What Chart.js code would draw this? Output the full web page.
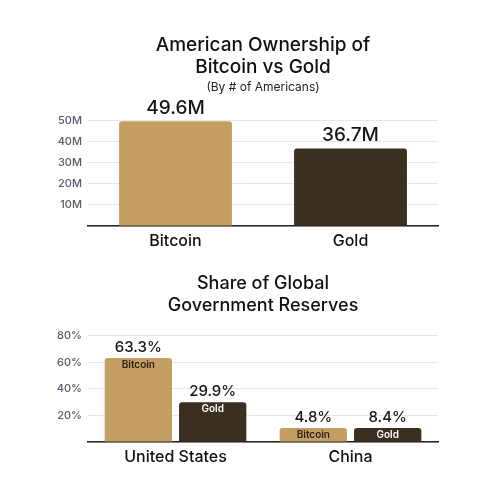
<!DOCTYPE html>
<html>
<head>
<meta charset="utf-8">
<script src="https://cdn.jsdelivr.net/npm/chart.js@4/dist/chart.umd.min.js"></script>
<style>
  body { margin: 0; background: #fff; }
  #wrap { position: relative; width: 500px; height: 484px; overflow: hidden; }
  canvas { position: absolute; left: 0; }
</style>
</head>
<body>
<div id="wrap">
  <canvas id="ownership" width="500" height="250" style="top:0"></canvas>
  <canvas id="reserves" width="500" height="234" style="top:250px"></canvas>
</div>
<script>
// data
let ownLabels = ["Bitcoin", "Gold"];
let ownValues = [49.6, 36.7];          // millions of Americans
let ownTicks = [10, 20, 30, 40, 50];

let resCountries = ["United States", "China"];
let resBitcoin = [63.3, 4.8];          // % of global government reserves
let resGold = [29.9, 8.4];
let resTicks = [20, 40, 60, 80];

let tan = "#c49e62";
let dark = "#3a2f20";
let font = "Inter, 'Noto Sans', sans-serif";

// value text above each bar (+ optional name inside the bar)
let etiquetas = {
    id: "etiquetas",
    afterDatasetsDraw(chart, args, opts) {
        let ctx = chart.ctx;
        chart.data.datasets.forEach((ds, i) => {
            let meta = chart.getDatasetMeta(i);
            meta.data.forEach((bar, j) => {
                ctx.save();
                ctx.textAlign = "center";
                ctx.textBaseline = "middle";
                ctx.font = "500 " + opts.size + "px " + font;
                ctx.fillStyle = "#161616";
                ctx.fillText(ds.data[j] + opts.suffix, bar.x, bar.y - opts.offset);
                if (opts.inner) {
                    ctx.font = "600 10px " + font;
                    ctx.fillStyle = ds.innerColor;
                    ctx.fillText(ds.label, bar.x, bar.y + 7);
                }
                ctx.restore();
            });
        });
    }
};

let yAxis = (ticks, suffix) => ({
    min: 0,
    max: ticks[ticks.length - 1],
    afterFit: (axis) => { axis.width = 48; },
    afterBuildTicks: (axis) => { axis.ticks = [0].concat(ticks).map(v => ({ value: v })); },
    border: { display: false },
    grid: { color: "#e6e6e6", lineWidth: 1, drawTicks: false },
    ticks: {
        padding: 6,
        color: "#575c6b",
        font: { family: font, size: 11, weight: "500" },
        callback: (v) => v === 0 ? "" : v + suffix
    }
});

let xAxis = (size, height) => ({
    afterFit: (axis) => { axis.height = height; },
    border: { display: true, color: "#222", width: 1.5 },
    grid: { display: false, drawTicks: false },
    ticks: { padding: 6, color: "#111", font: { family: font, size: size, weight: "500" } }
});

let grafica1 = document.getElementById("ownership").getContext("2d");
new Chart(grafica1, {
    type: "bar",
    data: {
        labels: ownLabels,
        datasets: [{
            label: "Americans",
            data: ownValues,
            backgroundColor: [tan, dark],
            borderRadius: 3,
            borderSkipped: "bottom",
            barPercentage: 0.645,
            categoryPercentage: 1
        }]
    },
    options: {
        responsive: false,
        animation: false,
        devicePixelRatio: 1,
        layout: { padding: { top: 34, left: 40, right: 62, bottom: 0 } },
        scales: { x: xAxis(16, 24), y: yAxis(ownTicks, "M") },
        plugins: {
            legend: { display: false },
            tooltip: { enabled: false },
            title: {
                display: true,
                fullSize: false,
                text: ["American Ownership of", "Bitcoin vs Gold"],
                color: "#111",
                font: { family: font, size: 19, weight: "500", lineHeight: 1.16 },
                padding: { top: 0, bottom: 0 }
            },
            subtitle: {
                display: true,
                fullSize: false,
                text: "(By # of Americans)",
                color: "#222",
                font: { family: font, size: 12, lineHeight: 1.2 },
                padding: { top: 2, bottom: 26 }
            },
            etiquetas: { size: 19, suffix: "M", offset: 13, inner: false }
        }
    },
    plugins: [etiquetas]
});

let grafica2 = document.getElementById("reserves").getContext("2d");
new Chart(grafica2, {
    type: "bar",
    data: {
        labels: resCountries,
        datasets: [{
            label: "Bitcoin",
            data: resBitcoin,
            backgroundColor: tan,
            innerColor: "#2a2114",
            borderRadius: 3,
            borderSkipped: "bottom",
            minBarLength: 14,
            barPercentage: 0.905,
            categoryPercentage: 0.85
        }, {
            label: "Gold",
            data: resGold,
            backgroundColor: dark,
            innerColor: "#ffffff",
            borderRadius: 3,
            borderSkipped: "bottom",
            minBarLength: 14,
            barPercentage: 0.905,
            categoryPercentage: 0.85
        }]
    },
    options: {
        responsive: false,
        animation: false,
        devicePixelRatio: 1,
        layout: { padding: { top: 23, left: 40, right: 62, bottom: 12 } },
        scales: { x: xAxis(16, 30), y: yAxis(resTicks, "%") },
        plugins: {
            legend: { display: false },
            tooltip: { enabled: false },
            title: {
                display: true,
                fullSize: false,
                text: ["Share of Global", "Government Reserves"],
                color: "#111",
                font: { family: font, size: 18, weight: "500", lineHeight: 1.22 },
                padding: { top: 0, bottom: 19 }
            },
            etiquetas: { size: 15, suffix: "%", offset: 11, inner: true }
        }
    },
    plugins: [etiquetas]
});
</script>
</body>
</html>
